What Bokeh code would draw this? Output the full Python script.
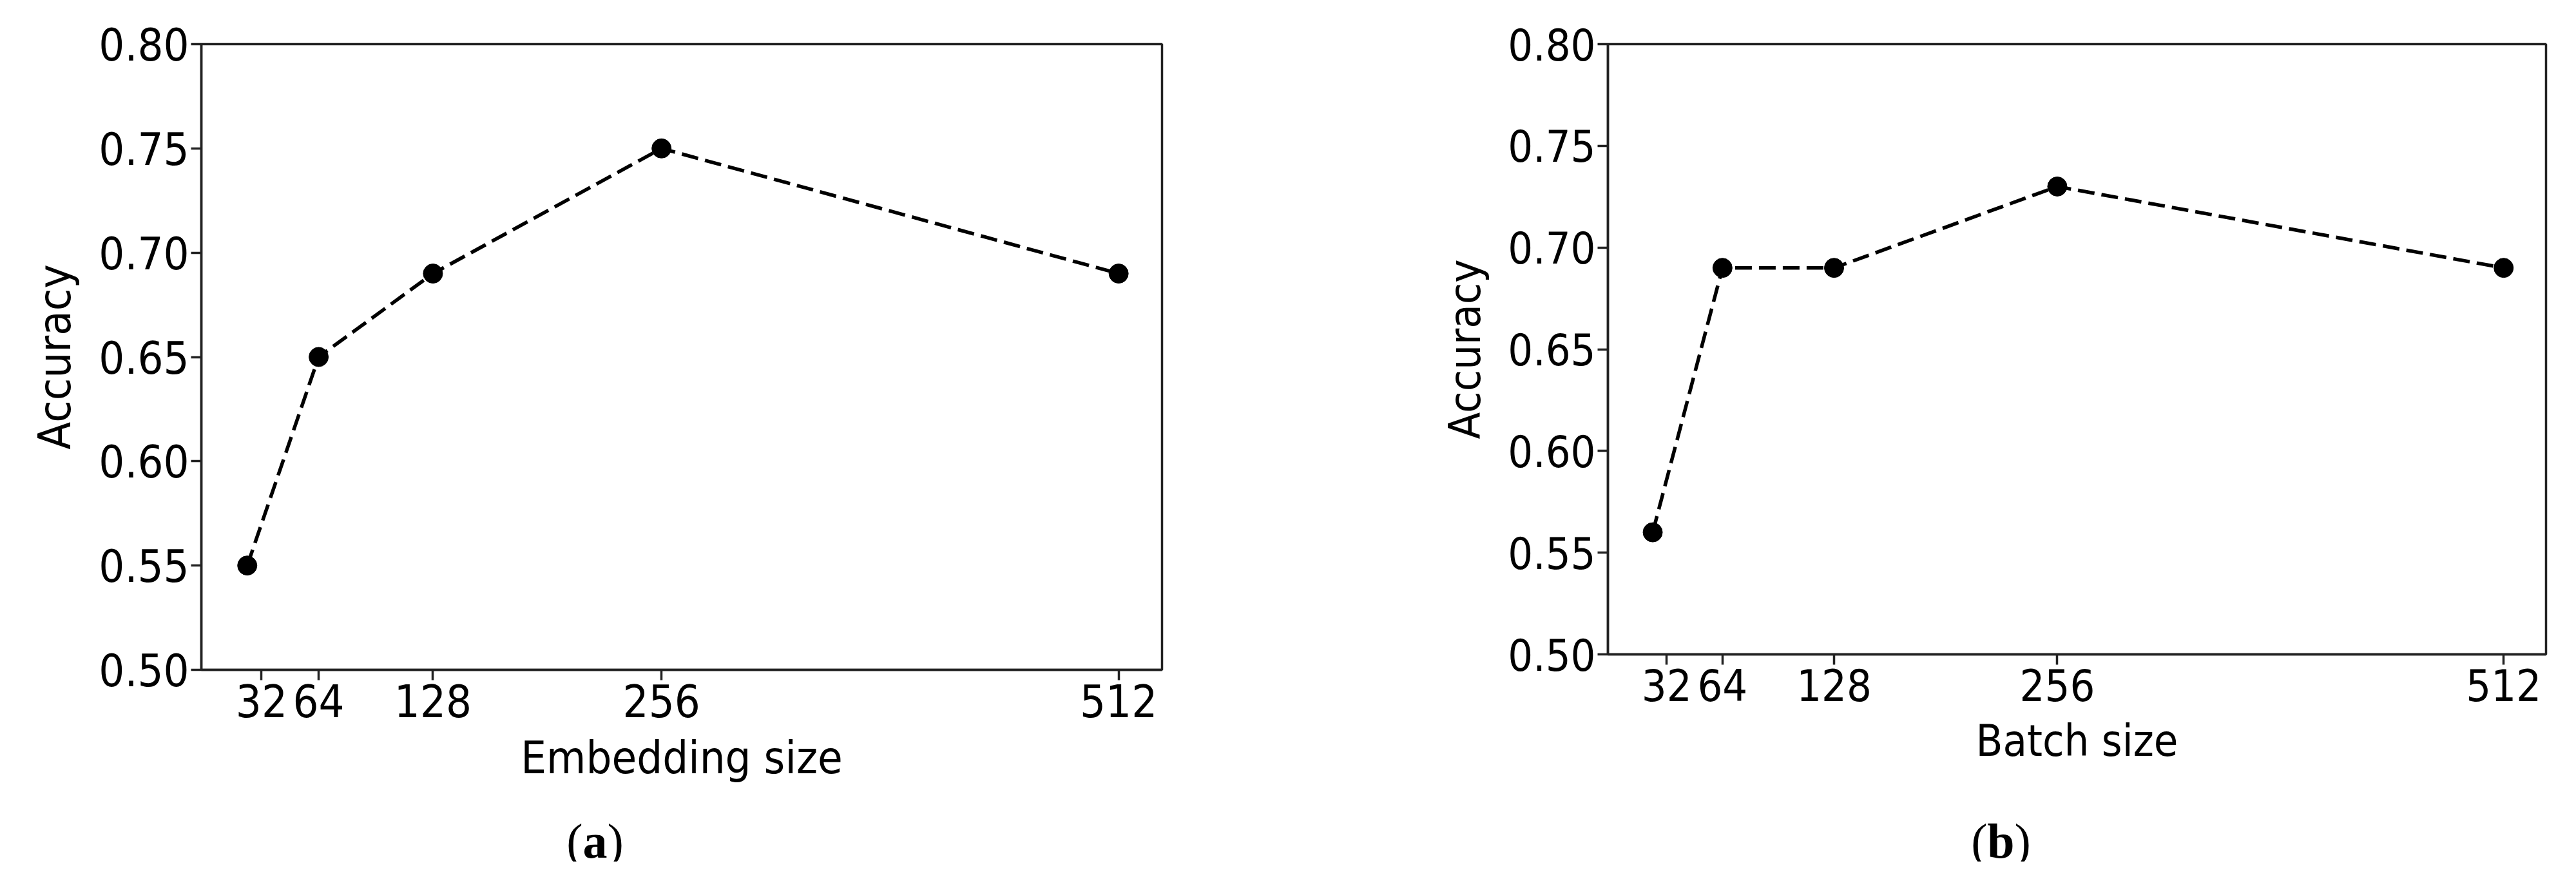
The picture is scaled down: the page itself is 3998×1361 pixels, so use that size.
from bokeh.plotting import figure
from bokeh.models import Range1d, FixedTicker, NumeralTickFormatter
from bokeh.layouts import row, column
from bokeh.core.properties import value
from bokeh.embed import file_html
from bokeh.resources import INLINE

# ---- data ----
x_values = [24, 64, 128, 256, 512]
x_ticks = [32, 64, 128, 256, 512]
y_ticks = [0.50, 0.55, 0.60, 0.65, 0.70, 0.75, 0.80]
embedding_accuracy = [0.55, 0.65, 0.69, 0.75, 0.69]
batch_accuracy = [0.56, 0.69, 0.69, 0.73, 0.69]
x_labels = ["Embedding size", "Batch size"]
y_label = "Accuracy"
captions = ["a", "b"]

FONT = "DejaVu Sans Condensed, DejaVu Sans"
SPINE = "#222222"
MAIN_H = 1242
CAP_H = 95


def make_panel(acc, xlabel, fw, fh, left, right, top, fs):
    p = figure(frame_width=fw, frame_height=fh, title=None,
               x_range=Range1d(-1.7, 536.3), y_range=Range1d(0.5, 0.8),
               output_backend="svg", toolbar_location=None,
               min_border_left=left, min_border_right=right,
               min_border_top=top, min_border_bottom=MAIN_H - top - fh,
               background_fill_color="white", border_fill_color="white")
    p.grid.visible = False
    p.outline_line_color = SPINE
    p.outline_line_width = 3.5
    p.outline_line_alpha = 1.0

    p.line(x_values, acc, line_color="black", line_width=5.5, line_dash="26 11")
    p.scatter(x_values, acc, size=30, marker="circle", fill_color="black", line_color="black")

    for ax in (p.xaxis[0], p.yaxis[0]):
        ax.axis_line_color = SPINE
        ax.axis_line_width = 3.5
        ax.major_tick_line_color = SPINE
        ax.major_tick_line_width = 3.5
        ax.major_tick_in = 0
        ax.major_tick_out = 16
        ax.minor_tick_line_color = None
        ax.major_label_text_font = FONT
        ax.major_label_text_font_size = f"{fs}px"
        ax.major_label_text_color = "black"
        ax.axis_label_text_font = FONT
        ax.axis_label_text_font_size = f"{fs}px"
        ax.axis_label_text_font_style = "normal"
        ax.axis_label_text_color = "black"

    p.xaxis[0].ticker = FixedTicker(ticks=x_ticks)
    p.xaxis[0].major_label_standoff = 6
    p.xaxis[0].axis_label = xlabel
    p.xaxis[0].axis_label_standoff = 19

    p.yaxis[0].ticker = FixedTicker(ticks=y_ticks)
    p.yaxis[0].formatter = NumeralTickFormatter(format="0.00")
    p.yaxis[0].major_label_standoff = 3
    p.yaxis[0].axis_label = y_label
    p.yaxis[0].axis_label_standoff = 24
    return p


def make_caption(letter, width, cx, baseline, half):
    c = figure(width=width, height=CAP_H, title=None,
               x_range=Range1d(0, width), y_range=Range1d(0, CAP_H),
               output_backend="svg", toolbar_location=None,
               x_axis_location=None, y_axis_location=None,
               min_border=0, border_fill_color="white", background_fill_color="white")
    c.grid.visible = False
    c.outline_line_color = None
    fs = "76px"
    c.text(x=[cx], y=[baseline], text=[letter], text_font=value("Liberation Serif"),
           text_font_style="bold", text_font_size=fs, text_align="center",
           text_baseline="alphabetic", text_color="black")
    c.text(x=[cx - half], y=[baseline], text=["("], text_font=value("Liberation Serif"),
           text_font_size=fs, text_align="right", text_baseline="alphabetic", text_color="black")
    c.text(x=[cx + half], y=[baseline], text=[")"], text_font=value("Liberation Serif"),
           text_font_size=fs, text_align="left", text_baseline="alphabetic", text_color="black")
    return c


pa = make_panel(embedding_accuracy, x_labels[0],
                fw=1491, fh=971, left=312, right=280, top=56, fs=70)
pb = make_panel(batch_accuracy, x_labels[1],
                fw=1456, fh=947, left=412, right=15, top=68, fs=68)

ca = make_caption(captions[0], 312 + 1491 + 280, 923, 33, 19)
cb = make_caption(captions[1], 412 + 1456 + 15, 1022, 33, 21)

layout = column(row(pa, pb), row(ca, cb))
open("out.html", "w").write(file_html(layout, INLINE))
